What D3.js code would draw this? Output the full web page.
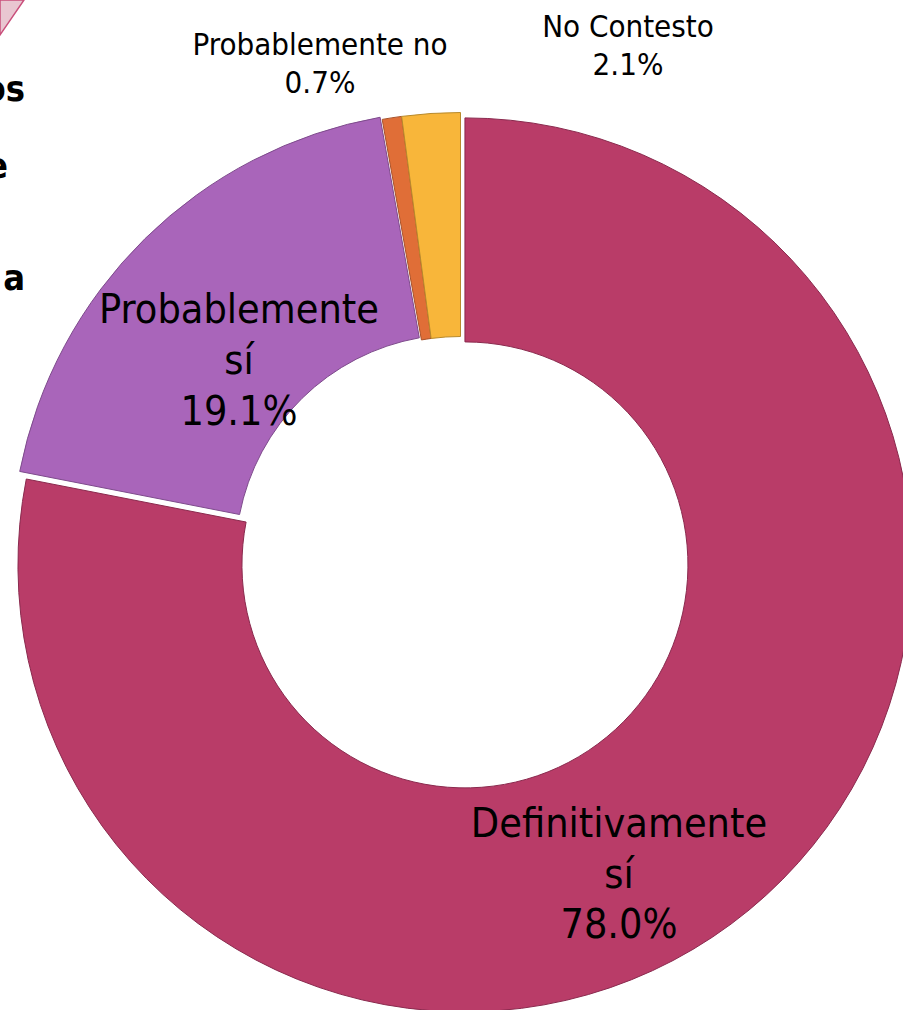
<!DOCTYPE html>
<html>
<head>
  <meta charset="utf-8">
  <title>Donut</title>
  <script src="https://d3js.org/d3.v7.min.js"></script>
  <style>
    body { margin: 0; background: #fff; }
    text { font-family: "DejaVu Sans Condensed", "DejaVu Sans", sans-serif; font-stretch: condensed; fill: #000; }
    .cut { font-weight: bold; }
  </style>
</head>
<body>
<svg class="chart"></svg>
<script>
// Data
const categories = ["Definitivamente sí", "Probablemente sí", "Probablemente no", "No Contesto"];
const values = [78.0, 19.1, 0.7, 2.1];
const labelLines = [["Definitivamente", "sí", "78.0%"], ["Probablemente", "sí", "19.1%"], ["Probablemente no", "0.7%"], ["No Contesto", "2.1%"]];

const width = 903, height = 1010;
const cx = 460.5, cy = 559.5, outerR = 447, innerR = 223;

const fills = ["#B93C68", "#A965BA", "#E06E37", "#F8B63A"];
const strokes = ["#8A2A4E", "#7E4B8C", "#A8522A", "#B88A2C"];
const explode = [7, 3, 0, 0];

const svg = d3.select(".chart")
  .attr("width", width)
  .attr("height", height);

// piece of a shape cut off at the top-left corner
svg.append("path")
  .attr("d", "M0,0 L24,0 L0,35 Z")
  .attr("fill", "#E9C6D1")
  .attr("stroke", "#C94F7B")
  .attr("stroke-width", 1.5);

// bits of a bold title cut off at the left edge
const cutText = ["os", "e", "a"];
const cutY = [101, 178, 290];
const cutX = [25, 8, 25];
svg.selectAll(".cut")
  .data(cutText)
  .join("text")
    .attr("class", "cut")
    .attr("x", (d, i) => cutX[i])
    .attr("y", (d, i) => cutY[i])
    .attr("text-anchor", "end")
    .style("font-size", "36px")
    .text(d => d);

const pie = d3.pie().sort(null).value(d => d);
const arcs = pie(values);

const arc = d3.arc().innerRadius(innerR).outerRadius(outerR);

const g = svg.append("g").attr("transform", `translate(${cx},${cy})`);

g.selectAll("path")
  .data(arcs)
  .join("path")
    .attr("d", arc)
    .attr("transform", (d, i) => {
      const a = (d.startAngle + d.endAngle) / 2;
      return `translate(${Math.sin(a) * explode[i]},${-Math.cos(a) * explode[i]})`;
    })
    .attr("fill", (d, i) => fills[i])
    .attr("stroke", (d, i) => strokes[i])
    .attr("stroke-width", 1);

// label placement
const labelPos = [
  {x: 619 - cx, y: 837 - cy, size: 41, lh: 50.5},
  {x: 239 - cx, y: 323 - cy, size: 41, lh: 51},
  {x: 320 - cx, y: 55 - cy, size: 31, lh: 38},
  {x: 628 - cx, y: 37 - cy, size: 31, lh: 38}
];

labelLines.forEach((lines, i) => {
  const p = labelPos[i];
  const t = g.append("text")
    .attr("text-anchor", "middle")
    .style("font-size", p.size + "px");
  lines.forEach((ln, j) => {
    t.append("tspan")
      .attr("x", p.x)
      .attr("y", p.y + j * p.lh)
      .text(ln);
  });
});
</script>
</body>
</html>
